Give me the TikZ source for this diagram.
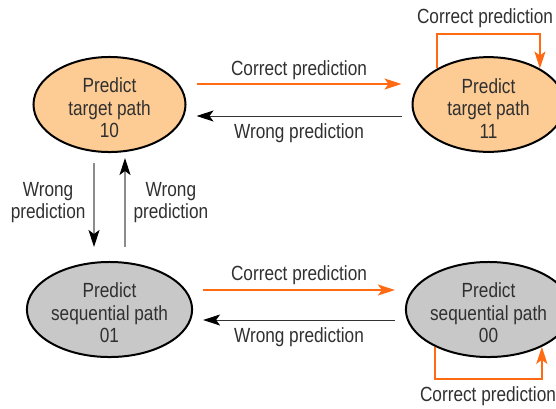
\documentclass[tikz,border=0pt]{standalone}
\usepackage{fontspec}
\setmainfont{Liberation Sans}[FakeStretch=0.84]
\usetikzlibrary{arrows.meta,shapes.geometric}
\definecolor{peach}{HTML}{FDCB94}
\definecolor{grayfill}{HTML}{C8C8C8}
\definecolor{orng}{HTML}{FF6A13}
\definecolor{txt}{HTML}{303030}
\newcommand{\toppad}{\rule{0pt}{22pt}}
\begin{document}
\begin{tikzpicture}[x=1pt,y=-1pt,
  every node/.style={font=\fontsize{20.5}{22.5}\selectfont, text=txt},
  state/.style={ellipse, draw=black, line width=2pt, minimum width=152pt, minimum height=83pt, inner sep=0pt, align=center},
  ok/.style={draw=orng, line width=2pt, -{Stealth[length=17pt,width=11pt,inset=4pt]}},
  bad/.style={draw=black!80, line width=1pt, -{Stealth[length=17pt,width=11pt,inset=4pt,color=black]}},
  vbad/.style={draw=black!45, line width=1.1pt, -{Stealth[length=17pt,width=11pt,inset=4pt,color=black]}},
  lbl/.style={inner sep=0pt}
]
\useasboundingbox (0,0) rectangle (556,408);
\begin{scope}
\clip (0,0) rectangle (556,408);
\node[state, fill=peach] (n10) at (109.5,104.5) {\toppad Predict\\target path\\10};
\node[state, fill=peach] (n11) at (488.5,104.5) {\toppad Predict\\target path\\11};
\node[state, fill=grayfill] (n01) at (109.5,309.5) {\toppad Predict\\sequential path\\01};
\node[state, fill=grayfill] (n00) at (488.5,309.5) {\toppad Predict\\sequential path\\00};
\end{scope}

% top horizontal
\draw[ok, shorten <=10pt, shorten >=10pt] ([yshift=20.5pt]n10.east) -- ([yshift=20.5pt]n10.east -| n11.west)
  node[lbl, midway, above=3pt] (c1) {Correct prediction};
\draw[bad, shorten <=10pt, shorten >=10pt] ([yshift=-11.5pt]n11.west) -- ([yshift=-11.5pt]n11.west -| n10.east)
  node[lbl, midway, below=7pt] (w1) {Wrong prediction};

% bottom horizontal
\draw[ok, shorten <=10pt, shorten >=10pt] ([yshift=19.5pt]n01.east) -- ([yshift=19.5pt]n01.east -| n00.west)
  node[lbl, midway, above=4pt] (c2) {Correct prediction};
\draw[bad, shorten <=10pt, shorten >=10pt] ([yshift=-10.5pt]n00.west) -- ([yshift=-10.5pt]n00.west -| n01.east)
  node[lbl, midway, below=7pt] (w2) {Wrong prediction};

% vertical
\draw[vbad, shorten <=10pt, shorten >=14pt] ([xshift=-15.5pt]n10.south) -- ([xshift=-15.5pt]n10.south |- n01.north)
  node[lbl, pos=0.46, left=8pt, align=center] (w3) {Wrong\\prediction};
\draw[vbad, shorten <=14pt, shorten >=5pt] ([xshift=15.5pt]n01.north) -- ([xshift=15.5pt]n01.north |- n10.south)
  node[lbl, pos=0.54, right=8pt, align=center] (w4) {Wrong\\prediction};

% self loops
\draw[ok] (n11.145) -- ++(0,-34) coordinate (t1) -| (n11.35);
\node[lbl] (c3) at (485,18) {Correct prediction};
\draw[ok] (n00.215) -- ++(0,32) coordinate (t2) -| (n00.325);
\node[lbl] (c4) at (488,396) {Correct prediction};
\end{tikzpicture}
\end{document}
